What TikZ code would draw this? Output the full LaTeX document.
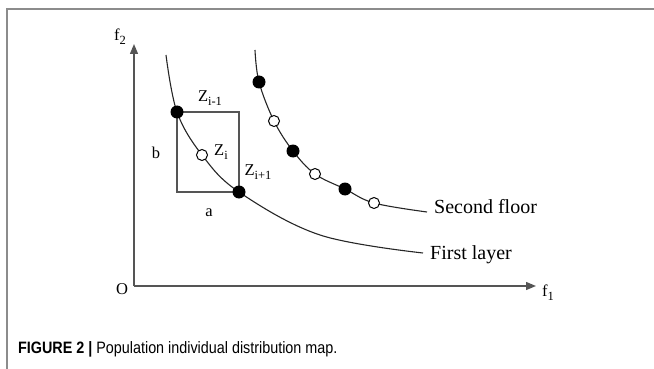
\documentclass[tikz,border=0pt]{standalone}
\usepackage{fontspec}
\setmainfont{Liberation Serif}
\newfontfamily\capfont[FakeStretch=0.87]{Liberation Sans}
\usetikzlibrary{arrows.meta}
\definecolor{framegray}{HTML}{8C8C8C}
\definecolor{axisgray}{HTML}{555555}
\newcommand{\lsub}[1]{\raisebox{-4pt}{\fontsize{12.5}{14}\selectfont #1}}

\begin{document}
\begin{tikzpicture}[x=1pt,y=-1pt,
  lbl/.style={inner sep=0pt,font=\fontsize{16.5}{18}\selectfont},
  layername/.style={inner sep=0pt,anchor=base west,font=\fontsize{20}{22}\selectfont},
  axis/.style={axisgray,line width=1.3pt,-{Triangle[length=10pt,width=8pt]}},
  layer/.style={black!85,line width=1.1pt},
  boxline/.style={axisgray,line width=1.3pt},
  full/.style={circle,fill=black,minimum size=13pt,inner sep=0pt},
  empty/.style={circle,draw=black,fill=white,line width=1pt,minimum size=11pt,inner sep=0pt}]
\useasboundingbox (0,0) rectangle (654,369);
% frame
\draw[framegray,line width=1.5pt] (7,369) -- (7,9) -- (654,9);

% axes
\coordinate (O) at (134,286);
\coordinate (ytop) at (134,44);
\coordinate (xend) at (536,286);
\draw[axis] (O) -- (ytop);
\draw[axis] (O) -- (xend);
\node[lbl] (olbl) at (122,289) {O};
\node[lbl] (f2) at (120,37) {f\lsub{2}};
\node[lbl] (f1) at (548,293) {f\lsub{1}};

% first layer
\coordinate (a0) at (166,55);
\coordinate (z0) at (177,112);
\coordinate (z1) at (202,155);
\coordinate (z2) at (239,192);
\coordinate (a1) at (320,235);
\coordinate (a2) at (423,253);
\draw[boxline] (z0) rectangle (z2);
\draw[layer] plot[smooth,tension=0.6] coordinates {(a0) (z0) (z1) (z2) (a1) (a2)};
\node[full] (zprev) at (z0) {};
\node[empty] (zi) at (z1) {};
\node[full] (znext) at (z2) {};
\node[lbl] (zprevlbl) at (210,98) {Z\lsub{i-1}};
\node[lbl] (zilbl) at (221,152) {Z\lsub{i}};
\node[lbl] (znextlbl) at (258,172) {Z\lsub{i+1}};
\node[lbl] (blbl) at (156,153) {b};
\node[lbl] (albl) at (209,213) {a};
\node[layername] (first) at (430,259) {First layer};

% second floor
\coordinate (b0) at (255,50);
\coordinate (s1) at (259,82);
\coordinate (s2) at (274,121);
\coordinate (s3) at (293,151);
\coordinate (s4) at (315,174);
\coordinate (s5) at (345,189);
\coordinate (s6) at (374,203);
\coordinate (b1) at (427,212);
\draw[layer] plot[smooth,tension=0.6] coordinates {(b0) (s1) (s2) (s3) (s4) (s5) (s6) (b1)};
\foreach \p in {s1,s3,s5} {
  \node[full] (d\p) at (\p) {};
}
\foreach \p in {s2,s4,s6} {
  \node[empty] (d\p) at (\p) {};
}
\node[layername] (second) at (434,213) {Second floor};

% caption
\node[inner sep=0pt,anchor=base west,font=\capfont\fontsize{16.5}{18}\selectfont] (cap) at (18,353)
  {\textbf{FIGURE 2 |} Population individual distribution map.};
\end{tikzpicture}
\end{document}
